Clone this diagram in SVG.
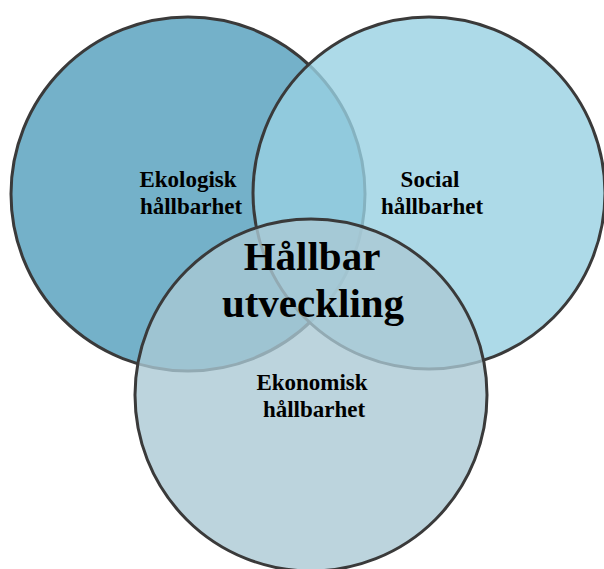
<svg xmlns="http://www.w3.org/2000/svg" width="604" height="569" viewBox="0 0 604 569">
<style>
.c{stroke:#3a3a3a;stroke-width:3}
.t{font-family:"Liberation Serif","Times New Roman",serif;font-weight:bold;fill:#000;text-anchor:middle}
.s{font-size:23px}
.b{font-size:41px}
</style>
<rect width="604" height="569" fill="#ffffff"/>
<g id="ekologisk">
<circle class="c" cx="188" cy="194" r="177" fill="#74B1C9"/>
</g>
<g id="social">
<circle class="c" cx="429" cy="193" r="176" fill="#98D1E2" fill-opacity="0.8"/>
</g>
<g id="ekonomisk">
<circle class="c" cx="311" cy="395" r="176" fill="#AAC9D4" fill-opacity="0.79"/>
</g>
<g id="connectors"></g>
<g id="labels">
<text class="t s" x="188" y="187">Ekologisk</text>
<text class="t s" x="191" y="214">hållbarhet</text>
<text class="t s" x="430" y="187">Social</text>
<text class="t s" x="432" y="214">hållbarhet</text>
<text class="t s" x="312" y="390">Ekonomisk</text>
<text class="t s" x="314" y="417">hållbarhet</text>
</g>
<g id="center">
<text class="t b" x="312" y="270">Hållbar</text>
<text class="t b" x="313" y="317">utveckling</text>
</g>
</svg>
